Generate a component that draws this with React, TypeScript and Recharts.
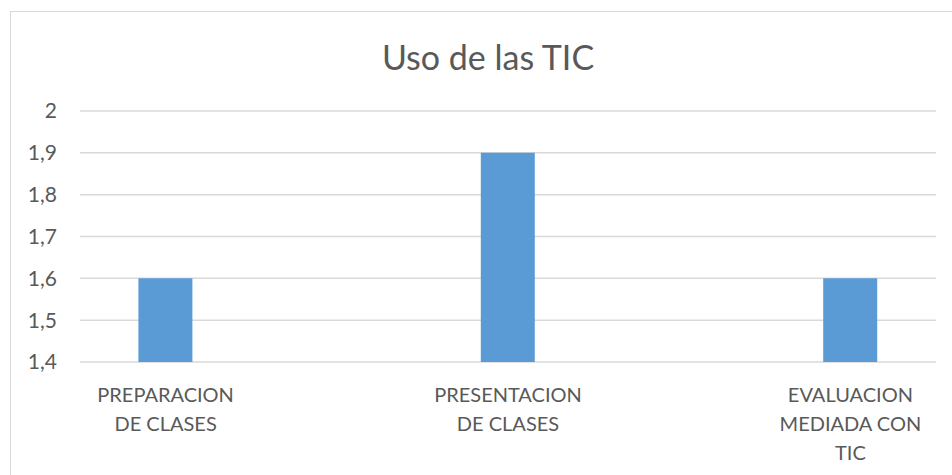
import { BarChart, Bar, XAxis, YAxis, CartesianGrid } from "recharts"

// category labels (line breaks as in the chart) and their values
const categories = ["PREPARACION\nDE CLASES", "PRESENTACION\nDE CLASES", "EVALUACION\nMEDIADA CON\nTIC"]
const values = [1.6, 1.9, 1.6]
const yTicks = [1.4, 1.5, 1.6, 1.7, 1.8, 1.9, 2]

const data = categories.map((name, i) => ({ pos: i, name, value: values[i] }))

const font = "Lato, 'Open Sans', sans-serif"
const textColor = "#595959"

function CategoryTick(props: any) {
    const { x, y, payload } = props
    const lines = categories[payload.value].split("\n")
    return (
        <text x={x} y={y} textAnchor="middle" fill={textColor} fontSize={20} fontFamily={font}>
            {lines.map((l, i) => (
                <tspan key={i} x={x} dy={i === 0 ? 38 : 29}>{l}</tspan>
            ))}
        </text>
    )
}

export default function App() {
    return (
        <div style={{ position: "absolute", left: 0, top: 0, width: 952, height: 475, background: "#fff", overflow: "hidden" }}>
            {/* chart frame, only top and left edges are visible */}
            <div style={{ position: "absolute", left: 10, top: 11, width: 960, height: 480, borderTop: "1px solid #d9d9d9", borderLeft: "1px solid #d9d9d9" }} />
            <div style={{ position: "absolute", left: 0, width: 976, top: 36, textAlign: "center", fontFamily: font, fontSize: 34, color: textColor }}>
                Uso de las TIC
            </div>
            <BarChart width={952} height={475} data={data} margin={{ top: 111, right: 16, left: 10, bottom: 13 }} style={{ position: "absolute", left: 0, top: 0 }}>
                <CartesianGrid vertical={false} stroke="#d9d9d9" strokeWidth={1.5} />
                <XAxis
                    dataKey="pos"
                    type="number"
                    domain={[-0.25, 2.25]}
                    ticks={[0, 1, 2]}
                    axisLine={false}
                    tickLine={false}
                    tickSize={0}
                    height={100}
                    interval={0}
                    tick={<CategoryTick />}
                />
                <YAxis
                    domain={[1.4, 2]}
                    ticks={yTicks}
                    width={70}
                    axisLine={false}
                    tickLine={false}
                    tickSize={0}
                    tickMargin={23}
                    tickFormatter={(v: number) => String(v).replace(".", ",")}
                    tick={{ fill: textColor, fontSize: 21, fontFamily: font }}
                />
                <Bar dataKey="value" fill="#5b9bd5" barSize={54} isAnimationActive={false} />
            </BarChart>
        </div>
    )
}
